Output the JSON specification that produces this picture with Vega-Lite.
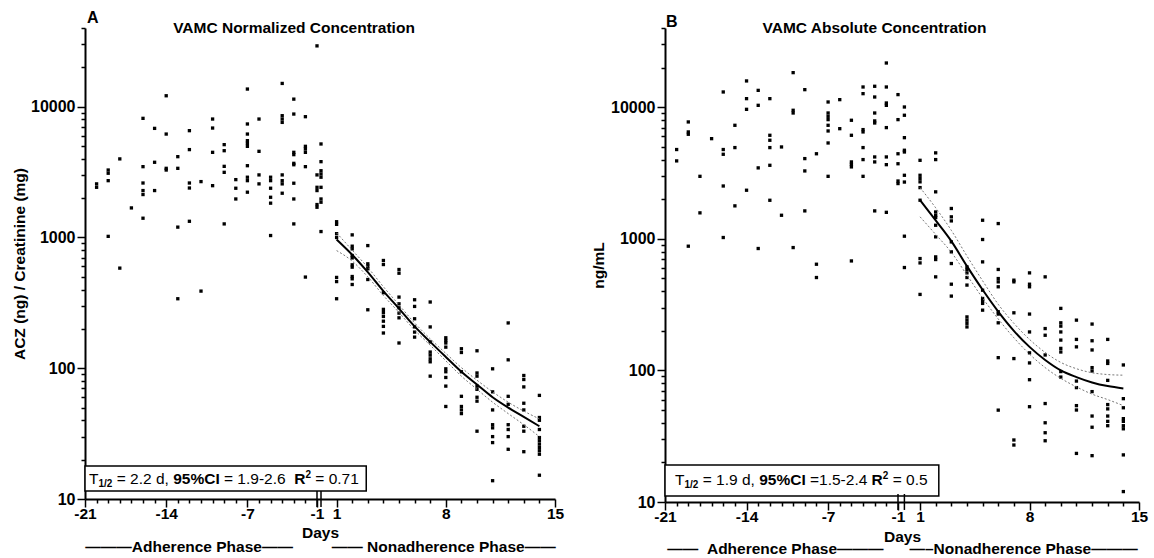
{
"$schema": "https://vega.github.io/schema/vega-lite/v6.json",
"background": "white",
"padding": {"left": 12, "top": 10, "right": 5, "bottom": 0},
"bounds": "flush",
"spacing": 110,
"config": {
  "view": {"stroke": null},
  "font": "Liberation Sans",
  "axis": {"domainColor": "black", "domainWidth": 2, "tickColor": "black", "tickWidth": 1.5, "labelColor": "black", "labelFont": "Liberation Sans", "labelFontWeight": "bold", "labelFontSize": 15.5, "titleFont": "Liberation Sans", "titleFontWeight": "bold", "titleFontSize": 15.5, "titleColor": "black", "grid": false, "labelPadding": 2, "labelOverlap": false, "labelFlush": false}
},
"datasets": {
  "ptsA": [
    {"day": -20, "value": 2570}, {"day": -20, "value": 2420},
    {"day": -19, "value": 3280}, {"day": -19, "value": 3100}, {"day": -19, "value": 2720}, {"day": -19, "value": 1020},
    {"day": -18, "value": 3990}, {"day": -18, "value": 583},
    {"day": -17, "value": 1683},
    {"day": -16, "value": 8150}, {"day": -16, "value": 3480}, {"day": -16, "value": 2610}, {"day": -16, "value": 2285}, {"day": -16, "value": 2130}, {"day": -16, "value": 1404},
    {"day": -15, "value": 6830}, {"day": -15, "value": 3760}, {"day": -15, "value": 2285},
    {"day": -14, "value": 12130}, {"day": -14, "value": 6180}, {"day": -14, "value": 3380}, {"day": -14, "value": 3280},
    {"day": -13, "value": 4150}, {"day": -13, "value": 3380}, {"day": -13, "value": 1200}, {"day": -13, "value": 340},
    {"day": -12, "value": 6560}, {"day": -12, "value": 4700}, {"day": -12, "value": 2610}, {"day": -12, "value": 2390}, {"day": -12, "value": 1330},
    {"day": -11, "value": 2675}, {"day": -11, "value": 389},
    {"day": -10, "value": 8050}, {"day": -10, "value": 6870}, {"day": -10, "value": 4480}, {"day": -10, "value": 2490},
    {"day": -9, "value": 5130}, {"day": -9, "value": 4610}, {"day": -9, "value": 3500}, {"day": -9, "value": 3150}, {"day": -9, "value": 1270},
    {"day": -8, "value": 2770}, {"day": -8, "value": 2380}, {"day": -8, "value": 1970},
    {"day": -7, "value": 13650}, {"day": -7, "value": 7380}, {"day": -7, "value": 6180}, {"day": -7, "value": 5500}, {"day": -7, "value": 5250}, {"day": -7, "value": 4980}, {"day": -7, "value": 3540}, {"day": -7, "value": 2890}, {"day": -7, "value": 2720}, {"day": -7, "value": 2220},
    {"day": -6, "value": 8050}, {"day": -6, "value": 4560}, {"day": -6, "value": 3010}, {"day": -6, "value": 2570},
    {"day": -5, "value": 2890}, {"day": -5, "value": 2720}, {"day": -5, "value": 2380}, {"day": -5, "value": 2030}, {"day": -5, "value": 1830}, {"day": -5, "value": 1035},
    {"day": -4, "value": 15070}, {"day": -4, "value": 8540}, {"day": -4, "value": 8050}, {"day": -4, "value": 7590}, {"day": -4, "value": 3010}, {"day": -4, "value": 2720}, {"day": -4, "value": 2570}, {"day": -4, "value": 2180},
    {"day": -3, "value": 11430}, {"day": -3, "value": 8790}, {"day": -3, "value": 4480}, {"day": -3, "value": 4300}, {"day": -3, "value": 3690}, {"day": -3, "value": 3600}, {"day": -3, "value": 2600}, {"day": -3, "value": 1970}, {"day": -3, "value": 1270},
    {"day": -2, "value": 8390}, {"day": -2, "value": 4980}, {"day": -2, "value": 4750}, {"day": -2, "value": 4480}, {"day": -2, "value": 3480}, {"day": -2, "value": 498},
    {"day": -1, "value": 29200}, {"day": -1, "value": 3010}, {"day": -1, "value": 2420}, {"day": -1, "value": 2285}, {"day": -1, "value": 1786}, {"day": -1, "value": 1703},
    {"day": 0, "value": 5190}, {"day": 0, "value": 3800}, {"day": 0, "value": 3240}, {"day": 0, "value": 3060}, {"day": 0, "value": 2890}, {"day": 0, "value": 2420}, {"day": 0, "value": 1970}, {"day": 0, "value": 1860}, {"day": 0, "value": 1110},
    {"day": 1, "value": 1320}, {"day": 1, "value": 1260}, {"day": 1, "value": 1070}, {"day": 1, "value": 1000}, {"day": 1, "value": 495}, {"day": 1, "value": 460}, {"day": 1, "value": 340},
    {"day": 2, "value": 1047}, {"day": 2, "value": 858}, {"day": 2, "value": 818}, {"day": 2, "value": 728}, {"day": 2, "value": 698}, {"day": 2, "value": 618}, {"day": 2, "value": 593}, {"day": 2, "value": 503}, {"day": 2, "value": 483}, {"day": 2, "value": 437},
    {"day": 3, "value": 867}, {"day": 3, "value": 629}, {"day": 3, "value": 604}, {"day": 3, "value": 576}, {"day": 3, "value": 477}, {"day": 3, "value": 280},
    {"day": 4, "value": 667}, {"day": 4, "value": 621}, {"day": 4, "value": 378}, {"day": 4, "value": 282}, {"day": 4, "value": 266}, {"day": 4, "value": 249}, {"day": 4, "value": 229}, {"day": 4, "value": 209}, {"day": 4, "value": 186},
    {"day": 5, "value": 569}, {"day": 5, "value": 533}, {"day": 5, "value": 350}, {"day": 5, "value": 311}, {"day": 5, "value": 290}, {"day": 5, "value": 264}, {"day": 5, "value": 243}, {"day": 5, "value": 156},
    {"day": 6, "value": 334}, {"day": 6, "value": 297}, {"day": 6, "value": 239}, {"day": 6, "value": 207}, {"day": 6, "value": 189}, {"day": 6, "value": 173},
    {"day": 7, "value": 321}, {"day": 7, "value": 207}, {"day": 7, "value": 159}, {"day": 7, "value": 133}, {"day": 7, "value": 126}, {"day": 7, "value": 118}, {"day": 7, "value": 112}, {"day": 7, "value": 87},
    {"day": 8, "value": 171}, {"day": 8, "value": 163}, {"day": 8, "value": 156}, {"day": 8, "value": 145}, {"day": 8, "value": 99}, {"day": 8, "value": 94}, {"day": 8, "value": 85}, {"day": 8, "value": 73}, {"day": 8, "value": 51},
    {"day": 9, "value": 141}, {"day": 9, "value": 132}, {"day": 9, "value": 94}, {"day": 9, "value": 61}, {"day": 9, "value": 51}, {"day": 9, "value": 48}, {"day": 9, "value": 45},
    {"day": 10, "value": 136}, {"day": 10, "value": 92}, {"day": 10, "value": 87}, {"day": 10, "value": 73}, {"day": 10, "value": 69}, {"day": 10, "value": 60}, {"day": 10, "value": 56}, {"day": 10, "value": 33},
    {"day": 11, "value": 99}, {"day": 11, "value": 66}, {"day": 11, "value": 48}, {"day": 11, "value": 37}, {"day": 11, "value": 35}, {"day": 11, "value": 30}, {"day": 11, "value": 27}, {"day": 11, "value": 13.8},
    {"day": 12, "value": 222}, {"day": 12, "value": 116}, {"day": 12, "value": 61}, {"day": 12, "value": 53}, {"day": 12, "value": 37}, {"day": 12, "value": 34}, {"day": 12, "value": 30}, {"day": 12, "value": 24},
    {"day": 13, "value": 88}, {"day": 13, "value": 82}, {"day": 13, "value": 72}, {"day": 13, "value": 54}, {"day": 13, "value": 48}, {"day": 13, "value": 36}, {"day": 13, "value": 33}, {"day": 13, "value": 23},
    {"day": 14, "value": 62}, {"day": 14, "value": 42}, {"day": 14, "value": 40}, {"day": 14, "value": 34}, {"day": 14, "value": 29.5}, {"day": 14, "value": 27.9}, {"day": 14, "value": 26.3}, {"day": 14, "value": 24.8}, {"day": 14, "value": 23.4}, {"day": 14, "value": 22}, {"day": 14, "value": 15.2}
  ],
  "ptsB": [
    {"day": -20, "value": 4770}, {"day": -20, "value": 3910},
    {"day": -19, "value": 7730}, {"day": -19, "value": 6490}, {"day": -19, "value": 6230}, {"day": -19, "value": 879},
    {"day": -18, "value": 2985}, {"day": -18, "value": 1575},
    {"day": -17, "value": 5770},
    {"day": -16, "value": 13060}, {"day": -16, "value": 4770}, {"day": -16, "value": 4390}, {"day": -16, "value": 2520}, {"day": -16, "value": 1023},
    {"day": -15, "value": 7290}, {"day": -15, "value": 4935}, {"day": -15, "value": 1780},
    {"day": -14, "value": 15840}, {"day": -14, "value": 11620}, {"day": -14, "value": 9640}, {"day": -14, "value": 2340},
    {"day": -13, "value": 13430}, {"day": -13, "value": 10340}, {"day": -13, "value": 3460}, {"day": -13, "value": 844},
    {"day": -12, "value": 11620}, {"day": -12, "value": 6120}, {"day": -12, "value": 5610}, {"day": -12, "value": 4935}, {"day": -12, "value": 3620}, {"day": -12, "value": 1963},
    {"day": -11, "value": 4990}, {"day": -11, "value": 1510},
    {"day": -10, "value": 18320}, {"day": -10, "value": 9480}, {"day": -10, "value": 9040}, {"day": -10, "value": 858},
    {"day": -9, "value": 13600}, {"day": -9, "value": 4070}, {"day": -9, "value": 3280}, {"day": -9, "value": 1630},
    {"day": -8, "value": 4430}, {"day": -8, "value": 641}, {"day": -8, "value": 508},
    {"day": -7, "value": 10960}, {"day": -7, "value": 9040}, {"day": -7, "value": 8530}, {"day": -7, "value": 8050}, {"day": -7, "value": 7290}, {"day": -7, "value": 6600}, {"day": -7, "value": 5350}, {"day": -7, "value": 2985},
    {"day": -6, "value": 11420}, {"day": -6, "value": 6870},
    {"day": -5, "value": 7960}, {"day": -5, "value": 6120}, {"day": -5, "value": 3840}, {"day": -5, "value": 3680}, {"day": -5, "value": 3520}, {"day": -5, "value": 679},
    {"day": -4, "value": 14250}, {"day": -4, "value": 12680}, {"day": -4, "value": 6760}, {"day": -4, "value": 6490}, {"day": -4, "value": 4935}, {"day": -4, "value": 4000}, {"day": -4, "value": 2985},
    {"day": -3, "value": 14430}, {"day": -3, "value": 11960}, {"day": -3, "value": 9040}, {"day": -3, "value": 7870}, {"day": -3, "value": 7590}, {"day": -3, "value": 4190}, {"day": -3, "value": 3840}, {"day": -3, "value": 1630},
    {"day": -2, "value": 21680}, {"day": -2, "value": 14250}, {"day": -2, "value": 10770}, {"day": -2, "value": 10340}, {"day": -2, "value": 7000}, {"day": -2, "value": 4190}, {"day": -2, "value": 3660}, {"day": -2, "value": 1590},
    {"day": -1, "value": 12470}, {"day": -1, "value": 8050}, {"day": -1, "value": 4430}, {"day": -1, "value": 3720}, {"day": -1, "value": 2750}, {"day": -1, "value": 2630},
    {"day": 0, "value": 10040}, {"day": 0, "value": 8690}, {"day": 0, "value": 5870}, {"day": 0, "value": 4710}, {"day": 0, "value": 4570}, {"day": 0, "value": 3040}, {"day": 0, "value": 2700}, {"day": 0, "value": 1047}, {"day": 0, "value": 605},
    {"day": 1, "value": 3950}, {"day": 1, "value": 3040}, {"day": 1, "value": 2870}, {"day": 1, "value": 2710}, {"day": 1, "value": 2450}, {"day": 1, "value": 1965}, {"day": 1, "value": 708}, {"day": 1, "value": 656}, {"day": 1, "value": 378},
    {"day": 2, "value": 4500}, {"day": 2, "value": 4000}, {"day": 2, "value": 2275}, {"day": 2, "value": 1600}, {"day": 2, "value": 1510}, {"day": 2, "value": 1452}, {"day": 2, "value": 1268}, {"day": 2, "value": 1035}, {"day": 2, "value": 729}, {"day": 2, "value": 696}, {"day": 2, "value": 514},
    {"day": 3, "value": 1700}, {"day": 3, "value": 1469}, {"day": 3, "value": 1368}, {"day": 3, "value": 948}, {"day": 3, "value": 796}, {"day": 3, "value": 649}, {"day": 3, "value": 452}, {"day": 3, "value": 367},
    {"day": 4, "value": 612}, {"day": 4, "value": 585}, {"day": 4, "value": 551}, {"day": 4, "value": 508}, {"day": 4, "value": 445}, {"day": 4, "value": 255}, {"day": 4, "value": 241}, {"day": 4, "value": 228}, {"day": 4, "value": 214},
    {"day": 5, "value": 1384}, {"day": 5, "value": 988}, {"day": 5, "value": 668}, {"day": 5, "value": 407}, {"day": 5, "value": 352}, {"day": 5, "value": 338}, {"day": 5, "value": 323}, {"day": 5, "value": 287},
    {"day": 6, "value": 1306}, {"day": 6, "value": 585}, {"day": 6, "value": 499}, {"day": 6, "value": 471}, {"day": 6, "value": 432}, {"day": 6, "value": 279}, {"day": 6, "value": 268}, {"day": 6, "value": 230}, {"day": 6, "value": 125}, {"day": 6, "value": 49.9},
    {"day": 7, "value": 485}, {"day": 7, "value": 471}, {"day": 7, "value": 274}, {"day": 7, "value": 123}, {"day": 7, "value": 29.6}, {"day": 7, "value": 27.1},
    {"day": 8, "value": 551}, {"day": 8, "value": 452}, {"day": 8, "value": 432}, {"day": 8, "value": 268}, {"day": 8, "value": 196}, {"day": 8, "value": 136}, {"day": 8, "value": 114}, {"day": 8, "value": 85}, {"day": 8, "value": 53},
    {"day": 9, "value": 514}, {"day": 9, "value": 208}, {"day": 9, "value": 185}, {"day": 9, "value": 131}, {"day": 9, "value": 56}, {"day": 9, "value": 40}, {"day": 9, "value": 33.6}, {"day": 9, "value": 29.2},
    {"day": 10, "value": 296}, {"day": 10, "value": 230}, {"day": 10, "value": 217}, {"day": 10, "value": 196}, {"day": 10, "value": 170}, {"day": 10, "value": 147}, {"day": 10, "value": 138}, {"day": 10, "value": 98}, {"day": 10, "value": 89},
    {"day": 11, "value": 241}, {"day": 11, "value": 172}, {"day": 11, "value": 151}, {"day": 11, "value": 83}, {"day": 11, "value": 74}, {"day": 11, "value": 54}, {"day": 11, "value": 50}, {"day": 11, "value": 23.4},
    {"day": 12, "value": 225}, {"day": 12, "value": 168}, {"day": 12, "value": 143}, {"day": 12, "value": 105}, {"day": 12, "value": 99}, {"day": 12, "value": 69}, {"day": 12, "value": 45}, {"day": 12, "value": 37}, {"day": 12, "value": 22.5},
    {"day": 13, "value": 172}, {"day": 13, "value": 118}, {"day": 13, "value": 113}, {"day": 13, "value": 84}, {"day": 13, "value": 55}, {"day": 13, "value": 51}, {"day": 13, "value": 45}, {"day": 13, "value": 41}, {"day": 13, "value": 38},
    {"day": 14, "value": 110}, {"day": 14, "value": 61}, {"day": 14, "value": 52}, {"day": 14, "value": 43}, {"day": 14, "value": 41}, {"day": 14, "value": 38}, {"day": 14, "value": 36}, {"day": 14, "value": 22.8}, {"day": 14, "value": 12.0}
  ],
  "fitA": [
    {"day": 1, "value": 966, "series": "fit"}, {"day": 2, "value": 738, "series": "fit"}, {"day": 3, "value": 543, "series": "fit"}, {"day": 4, "value": 389, "series": "fit"}, {"day": 5, "value": 286, "series": "fit"}, {"day": 6, "value": 209, "series": "fit"}, {"day": 7, "value": 159, "series": "fit"}, {"day": 8, "value": 122, "series": "fit"}, {"day": 9, "value": 94, "series": "fit"}, {"day": 10, "value": 75, "series": "fit"}, {"day": 11, "value": 60, "series": "fit"}, {"day": 12, "value": 50, "series": "fit"}, {"day": 13, "value": 42.5, "series": "fit"}, {"day": 14, "value": 36, "series": "fit"},
    {"day": 1, "value": 1084, "series": "upper"}, {"day": 2, "value": 800, "series": "upper"}, {"day": 3, "value": 590, "series": "upper"}, {"day": 4, "value": 420, "series": "upper"}, {"day": 5, "value": 305, "series": "upper"}, {"day": 6, "value": 222, "series": "upper"}, {"day": 7, "value": 168, "series": "upper"}, {"day": 8, "value": 130, "series": "upper"}, {"day": 9, "value": 101, "series": "upper"}, {"day": 10, "value": 81, "series": "upper"}, {"day": 11, "value": 66, "series": "upper"}, {"day": 12, "value": 55, "series": "upper"}, {"day": 13, "value": 47, "series": "upper"}, {"day": 14, "value": 41, "series": "upper"},
    {"day": 1, "value": 794, "series": "lower"}, {"day": 2, "value": 660, "series": "lower"}, {"day": 3, "value": 500, "series": "lower"}, {"day": 4, "value": 360, "series": "lower"}, {"day": 5, "value": 267, "series": "lower"}, {"day": 6, "value": 196, "series": "lower"}, {"day": 7, "value": 150, "series": "lower"}, {"day": 8, "value": 114, "series": "lower"}, {"day": 9, "value": 87, "series": "lower"}, {"day": 10, "value": 69, "series": "lower"}, {"day": 11, "value": 55, "series": "lower"}, {"day": 12, "value": 45, "series": "lower"}, {"day": 13, "value": 37, "series": "lower"}, {"day": 14, "value": 30, "series": "lower"}
  ],
  "fitB": [
    {"day": 1, "value": 1965, "series": "fit"}, {"day": 2, "value": 1380, "series": "fit"}, {"day": 3, "value": 960, "series": "fit"}, {"day": 4, "value": 620, "series": "fit"}, {"day": 5, "value": 410, "series": "fit"}, {"day": 6, "value": 280, "series": "fit"}, {"day": 7, "value": 200, "series": "fit"}, {"day": 8, "value": 151, "series": "fit"}, {"day": 9, "value": 120, "series": "fit"}, {"day": 10, "value": 100, "series": "fit"}, {"day": 11, "value": 89, "series": "fit"}, {"day": 12, "value": 81, "series": "fit"}, {"day": 13, "value": 76, "series": "fit"}, {"day": 14, "value": 73, "series": "fit"},
    {"day": 1, "value": 2450, "series": "upper"}, {"day": 2, "value": 1720, "series": "upper"}, {"day": 3, "value": 1160, "series": "upper"}, {"day": 4, "value": 740, "series": "upper"}, {"day": 5, "value": 480, "series": "upper"}, {"day": 6, "value": 318, "series": "upper"}, {"day": 7, "value": 228, "series": "upper"}, {"day": 8, "value": 172, "series": "upper"}, {"day": 9, "value": 137, "series": "upper"}, {"day": 10, "value": 115, "series": "upper"}, {"day": 11, "value": 103, "series": "upper"}, {"day": 12, "value": 96, "series": "upper"}, {"day": 13, "value": 93, "series": "upper"}, {"day": 14, "value": 92, "series": "upper"},
    {"day": 1, "value": 1470, "series": "lower"}, {"day": 2, "value": 1080, "series": "lower"}, {"day": 3, "value": 790, "series": "lower"}, {"day": 4, "value": 530, "series": "lower"}, {"day": 5, "value": 355, "series": "lower"}, {"day": 6, "value": 246, "series": "lower"}, {"day": 7, "value": 177, "series": "lower"}, {"day": 8, "value": 133, "series": "lower"}, {"day": 9, "value": 105, "series": "lower"}, {"day": 10, "value": 87, "series": "lower"}, {"day": 11, "value": 75, "series": "lower"}, {"day": 12, "value": 66, "series": "lower"}, {"day": 13, "value": 60, "series": "lower"}, {"day": 14, "value": 54, "series": "lower"}
  ]
},
"hconcat": [
{
  "width": 470, "height": 471,
  "layer": [
    {"data": {"name": "ptsA"},
     "mark": {"type": "point", "shape": "square", "filled": true, "size": 11, "color": "black", "opacity": 1},
     "encoding": {
       "x": {"field": "day", "type": "quantitative",
             "scale": {"domain": [-21, -1, 0, 15], "range": [0, 232, 236, 470], "nice": false, "zero": false},
             "axis": {"title": ["Days", "———Adherence Phase——\u00a0\u00a0\u00a0\u00a0\u00a0\u00a0\u00a0\u00a0\u00a0——\u00a0Nonadherence Phase——"], "titleLineHeight": 14, "titlePadding": 4, "labelPadding": -1, "labelOverlap": false, "labelFlush": false, "tickCount": 200,
                      "values": [-21,-20,-19,-18,-17,-16,-15,-14,-13,-12,-11,-10,-9,-8,-7,-6,-5,-4,-3,-2,-1,1,2,3,4,5,6,7,8,9,10,11,12,13,14,15],
                      "labelExpr": "indexof([-21,-14,-7,-1,1,8,15], datum.value) >= 0 ? '' + datum.value : ''",
                      "tickSize": {"condition": {"test": "indexof([-21,-14,-7,-1,1,8,15], datum.value) >= 0", "value": 8}, "value": 4}}},
       "y": {"field": "value", "type": "quantitative",
             "scale": {"type": "log", "domain": [10, 40000], "nice": false},
             "axis": {"title": "ACZ (ng) / Creatinine (mg)", "titlePadding": 3, "labelOverlap": false, "labelFontSize": 16, "tickCount": 200,
                      "values": [10,20,30,40,50,60,70,80,90,100,200,300,400,500,600,700,800,900,1000,2000,3000,4000,5000,6000,7000,8000,9000,10000,20000,30000,40000],
                      "labelExpr": "indexof([10,100,1000,10000], datum.value) >= 0 ? '' + datum.value : ''",
                      "tickSize": {"condition": {"test": "indexof([10,100,1000,10000], datum.value) >= 0", "value": 8}, "value": 4}}}
     }},
    {"data": {"name": "fitA"}, "transform": [{"filter": "datum.series == 'upper'"}],
     "mark": {"type": "line", "color": "#777777", "strokeWidth": 1, "strokeDash": [2, 2], "interpolate": "monotone"},
     "encoding": {"x": {"field": "day", "type": "quantitative"}, "y": {"field": "value", "type": "quantitative"}}},
    {"data": {"name": "fitA"}, "transform": [{"filter": "datum.series == 'lower'"}],
     "mark": {"type": "line", "color": "#777777", "strokeWidth": 1, "strokeDash": [2, 2], "interpolate": "monotone"},
     "encoding": {"x": {"field": "day", "type": "quantitative"}, "y": {"field": "value", "type": "quantitative"}}},
    {"data": {"name": "fitA"}, "transform": [{"filter": "datum.series == 'fit'"}],
     "mark": {"type": "line", "color": "black", "strokeWidth": 2, "interpolate": "monotone"},
     "encoding": {"x": {"field": "day", "type": "quantitative"}, "y": {"field": "value", "type": "quantitative"}}},
    {"data": {"values": [{}]},
     "mark": {"type": "rect", "fill": "white", "stroke": "black", "strokeWidth": 1.5},
     "encoding": {"x": {"datum": -21}, "x2": {"datum": 2.9}, "y": {"datum": 11.5}, "y2": {"datum": 17.9}}},
    {"data": {"values": [{}]},
     "mark": {"type": "rule", "stroke": "black", "strokeWidth": 1.5},
     "encoding": {"x": {"datum": -1}, "y": {"datum": 8.7}, "y2": {"datum": 11.5}}},
    {"data": {"values": [{}]},
     "mark": {"type": "rule", "stroke": "black", "strokeWidth": 1.5},
     "encoding": {"x": {"datum": 0}, "y": {"datum": 8.7}, "y2": {"datum": 11.5}}},
    {"data": {"values": [{}]},
     "mark": {"type": "text", "text": "A", "align": "left", "baseline": "alphabetic", "dx": 2, "dy": -5, "fontSize": 16, "fontWeight": "bold", "color": "black"},
     "encoding": {"x": {"datum": -21}, "y": {"datum": 40000}}},
    {"data": {"values": [{}]},
     "mark": {"type": "text", "text": "VAMC Normalized Concentration", "align": "center", "baseline": "alphabetic", "dx": 209, "dy": 5, "fontSize": 15.5, "fontWeight": "bold", "color": "black"},
     "encoding": {"x": {"datum": -21}, "y": {"datum": 40000}}},
    {"data": {"values": [{}]},
     "mark": {"type": "text", "text": "T", "align": "left", "baseline": "middle", "dx": 4, "fontSize": 15.5, "color": "black"},
     "encoding": {"x": {"datum": -21}, "y": {"datum": 14.3}}},
    {"data": {"values": [{}]},
     "mark": {"type": "text", "text": "1/2", "align": "left", "baseline": "middle", "dx": 13.5, "dy": 5, "fontSize": 10, "fontWeight": "bold", "color": "black"},
     "encoding": {"x": {"datum": -21}, "y": {"datum": 14.3}}},
    {"data": {"values": [{}]},
     "mark": {"type": "text", "text": "= 2.2 d,", "align": "left", "baseline": "middle", "dx": 31.7, "fontSize": 15.5, "color": "black"},
     "encoding": {"x": {"datum": -21}, "y": {"datum": 14.3}}},
    {"data": {"values": [{}]},
     "mark": {"type": "text", "text": "95%CI", "align": "left", "baseline": "middle", "dx": 88.2, "fontSize": 15.5, "fontWeight": "bold", "color": "black"},
     "encoding": {"x": {"datum": -21}, "y": {"datum": 14.3}}},
    {"data": {"values": [{}]},
     "mark": {"type": "text", "text": "= 1.9-2.6", "align": "left", "baseline": "middle", "dx": 139, "fontSize": 15.5, "color": "black"},
     "encoding": {"x": {"datum": -21}, "y": {"datum": 14.3}}},
    {"data": {"values": [{}]},
     "mark": {"type": "text", "text": "R", "align": "left", "baseline": "middle", "dx": 209.2, "fontSize": 15.5, "fontWeight": "bold", "color": "black"},
     "encoding": {"x": {"datum": -21}, "y": {"datum": 14.3}}},
    {"data": {"values": [{}]},
     "mark": {"type": "text", "text": "2", "align": "left", "baseline": "middle", "dx": 220.4, "dy": -4, "fontSize": 10, "fontWeight": "bold", "color": "black"},
     "encoding": {"x": {"datum": -21}, "y": {"datum": 14.3}}},
    {"data": {"values": [{}]},
     "mark": {"type": "text", "text": "= 0.71", "align": "left", "baseline": "middle", "dx": 230.3, "fontSize": 15.5, "color": "black"},
     "encoding": {"x": {"datum": -21}, "y": {"datum": 14.3}}}
  ]
},
{
  "width": 474, "height": 474,
  "layer": [
    {"data": {"name": "ptsB"},
     "mark": {"type": "point", "shape": "square", "filled": true, "size": 11, "color": "black", "opacity": 1},
     "encoding": {
       "x": {"field": "day", "type": "quantitative",
             "scale": {"domain": [-21, -1, 0, 15], "range": [0, 233, 239.4, 474], "nice": false, "zero": false},
             "axis": {"title": ["Days", "——\u00a0\u00a0Adherence Phase———\u00a0\u00a0\u00a0\u00a0\u00a0\u00a0—–Nonadherence Phase———"], "titleLineHeight": 12, "titlePadding": 5, "labelPadding": -1, "labelOverlap": false, "labelFlush": false, "tickCount": 200,
                      "values": [-21,-20,-19,-18,-17,-16,-15,-14,-13,-12,-11,-10,-9,-8,-7,-6,-5,-4,-3,-2,-1,1,2,3,4,5,6,7,8,9,10,11,12,13,14,15],
                      "labelExpr": "indexof([-21,-14,-7,-1,1,8,15], datum.value) >= 0 ? '' + datum.value : ''",
                      "tickSize": {"condition": {"test": "indexof([-21,-14,-7,-1,1,8,15], datum.value) >= 0", "value": 8}, "value": 4}}},
       "y": {"field": "value", "type": "quantitative",
             "scale": {"type": "log", "domain": [10, 40000], "nice": false},
             "axis": {"title": "ng/mL", "titlePadding": 4, "labelOverlap": false, "labelFontSize": 16, "tickCount": 200,
                      "values": [10,20,30,40,50,60,70,80,90,100,200,300,400,500,600,700,800,900,1000,2000,3000,4000,5000,6000,7000,8000,9000,10000,20000,30000,40000],
                      "labelExpr": "indexof([10,100,1000,10000], datum.value) >= 0 ? '' + datum.value : ''",
                      "tickSize": {"condition": {"test": "indexof([10,100,1000,10000], datum.value) >= 0", "value": 8}, "value": 4}}}
     }},
    {"data": {"name": "fitB"}, "transform": [{"filter": "datum.series == 'upper'"}],
     "mark": {"type": "line", "color": "#777777", "strokeWidth": 1, "strokeDash": [2, 2], "interpolate": "monotone"},
     "encoding": {"x": {"field": "day", "type": "quantitative"}, "y": {"field": "value", "type": "quantitative"}}},
    {"data": {"name": "fitB"}, "transform": [{"filter": "datum.series == 'lower'"}],
     "mark": {"type": "line", "color": "#777777", "strokeWidth": 1, "strokeDash": [2, 2], "interpolate": "monotone"},
     "encoding": {"x": {"field": "day", "type": "quantitative"}, "y": {"field": "value", "type": "quantitative"}}},
    {"data": {"name": "fitB"}, "transform": [{"filter": "datum.series == 'fit'"}],
     "mark": {"type": "line", "color": "black", "strokeWidth": 2, "interpolate": "monotone"},
     "encoding": {"x": {"field": "day", "type": "quantitative"}, "y": {"field": "value", "type": "quantitative"}}},
    {"data": {"values": [{}]},
     "mark": {"type": "rect", "fill": "white", "stroke": "black", "strokeWidth": 1.5},
     "encoding": {"x": {"datum": -21}, "x2": {"datum": 2.2}, "y": {"datum": 11.1}, "y2": {"datum": 19.1}}},
    {"data": {"values": [{}]},
     "mark": {"type": "rule", "stroke": "black", "strokeWidth": 1.5},
     "encoding": {"x": {"datum": -1}, "y": {"datum": 8.7}, "y2": {"datum": 11.5}}},
    {"data": {"values": [{}]},
     "mark": {"type": "rule", "stroke": "black", "strokeWidth": 1.5},
     "encoding": {"x": {"datum": 0}, "y": {"datum": 8.7}, "y2": {"datum": 11.5}}},
    {"data": {"values": [{}]},
     "mark": {"type": "text", "text": "B", "align": "left", "baseline": "alphabetic", "dx": 1, "dy": -1, "fontSize": 16, "fontWeight": "bold", "color": "black"},
     "encoding": {"x": {"datum": -21}, "y": {"datum": 40000}}},
    {"data": {"values": [{}]},
     "mark": {"type": "text", "text": "VAMC Absolute Concentration", "align": "center", "baseline": "alphabetic", "dx": 209.5, "dy": 5, "fontSize": 15.5, "fontWeight": "bold", "color": "black"},
     "encoding": {"x": {"datum": -21}, "y": {"datum": 40000}}},
    {"data": {"values": [{}]},
     "mark": {"type": "text", "text": "T", "align": "left", "baseline": "middle", "dx": 10, "fontSize": 15.5, "color": "black"},
     "encoding": {"x": {"datum": -21}, "y": {"datum": 14.6}}},
    {"data": {"values": [{}]},
     "mark": {"type": "text", "text": "1/2", "align": "left", "baseline": "middle", "dx": 19.5, "dy": 5, "fontSize": 10, "fontWeight": "bold", "color": "black"},
     "encoding": {"x": {"datum": -21}, "y": {"datum": 14.6}}},
    {"data": {"values": [{}]},
     "mark": {"type": "text", "text": "= 1.9 d,", "align": "left", "baseline": "middle", "dx": 37.7, "fontSize": 15.5, "color": "black"},
     "encoding": {"x": {"datum": -21}, "y": {"datum": 14.6}}},
    {"data": {"values": [{}]},
     "mark": {"type": "text", "text": "95%CI", "align": "left", "baseline": "middle", "dx": 94.2, "fontSize": 15.5, "fontWeight": "bold", "color": "black"},
     "encoding": {"x": {"datum": -21}, "y": {"datum": 14.6}}},
    {"data": {"values": [{}]},
     "mark": {"type": "text", "text": "=1.5-2.4", "align": "left", "baseline": "middle", "dx": 145, "fontSize": 15.5, "color": "black"},
     "encoding": {"x": {"datum": -21}, "y": {"datum": 14.6}}},
    {"data": {"values": [{}]},
     "mark": {"type": "text", "text": "R", "align": "left", "baseline": "middle", "dx": 206.6, "fontSize": 15.5, "fontWeight": "bold", "color": "black"},
     "encoding": {"x": {"datum": -21}, "y": {"datum": 14.6}}},
    {"data": {"values": [{}]},
     "mark": {"type": "text", "text": "2", "align": "left", "baseline": "middle", "dx": 217.8, "dy": -4, "fontSize": 10, "fontWeight": "bold", "color": "black"},
     "encoding": {"x": {"datum": -21}, "y": {"datum": 14.6}}},
    {"data": {"values": [{}]},
     "mark": {"type": "text", "text": "= 0.5", "align": "left", "baseline": "middle", "dx": 227.7, "fontSize": 15.5, "color": "black"},
     "encoding": {"x": {"datum": -21}, "y": {"datum": 14.6}}}
  ]
}
]
}
